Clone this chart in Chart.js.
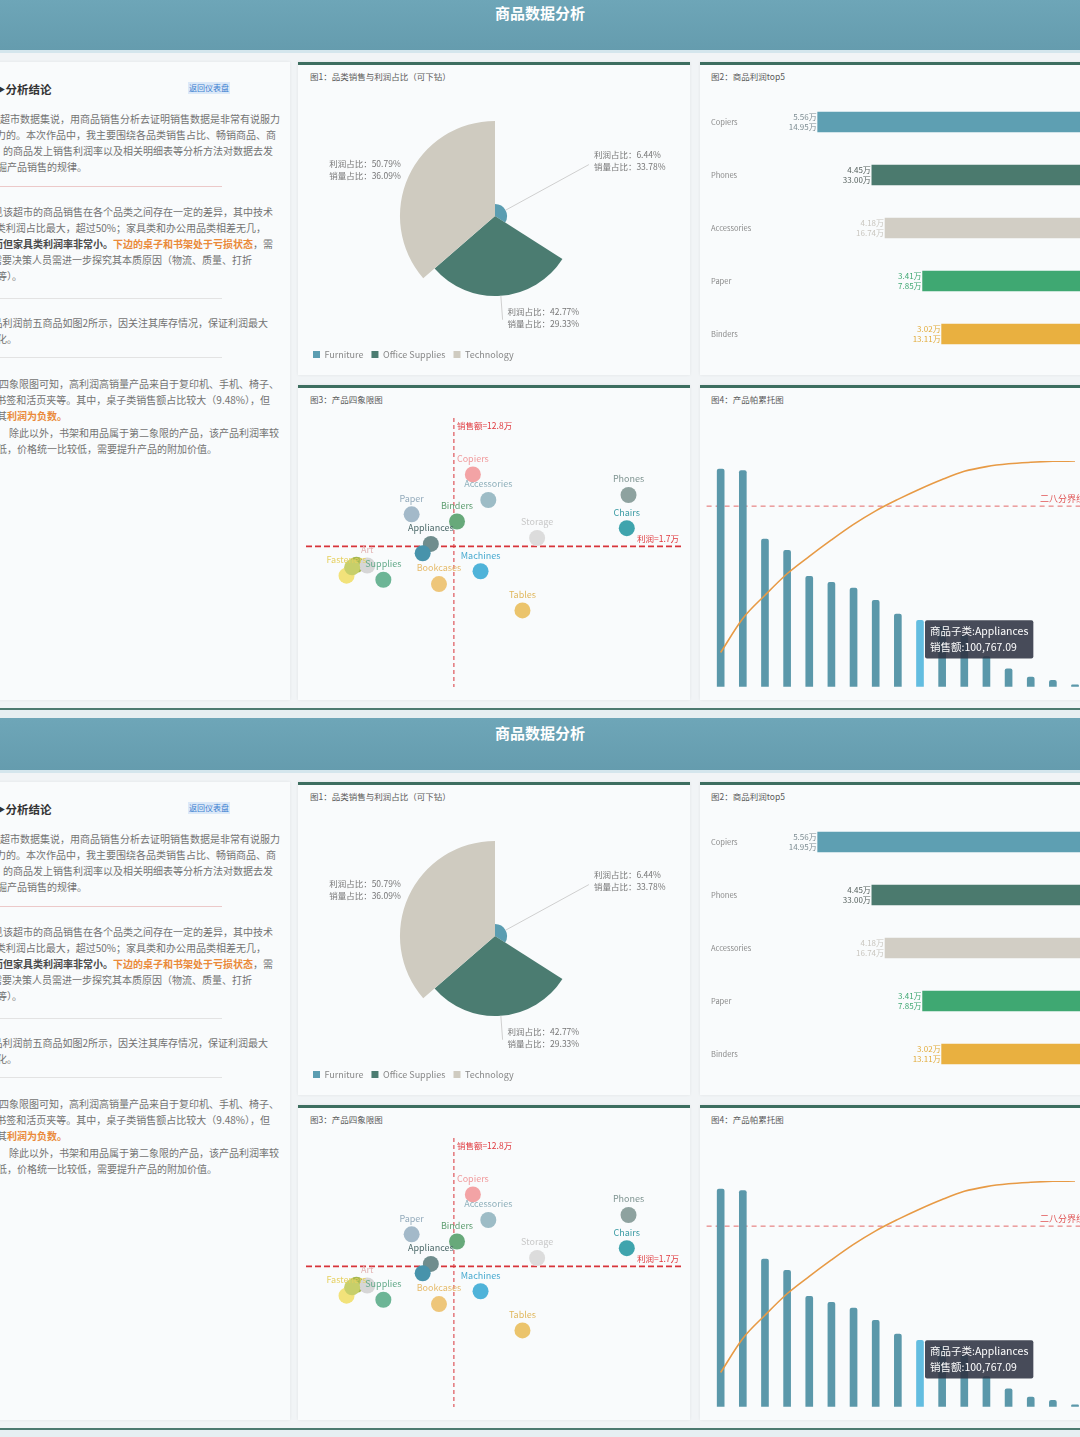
<!DOCTYPE html>
<html><head><meta charset="utf-8">
<script src="https://cdn.jsdelivr.net/npm/chart.js@4.4.0/dist/chart.umd.min.js"></script>
<style>
html,body{margin:0;padding:0;width:1080px;height:1437px;overflow:hidden;background:#ffffff;font-family:'Noto Sans CJK SC','Noto Sans',sans-serif;}
.copy{position:absolute;left:0;width:1080px;height:720px;background:#f1f4f6;overflow:hidden;}
.hdr{position:absolute;left:0;top:0;width:1080px;height:52px;background:linear-gradient(180deg,#6ea6b8,#659cae);}
.hdr .t{position:absolute;left:0;width:1080px;top:4px;text-align:center;color:#fff;font-weight:700;font-size:15px;line-height:22px;}
.strip{position:absolute;left:0;top:52px;width:1080px;height:3px;background:#d4e6ed;}
.panel{position:absolute;background:#f9fbfc;box-shadow:0 0 3px rgba(0,0,0,0.07);box-sizing:border-box;}
.panel.b{border-top:3px solid #3d6e60;}
.ptitle{position:absolute;font-size:8.5px;line-height:12px;color:#5a5a5a;white-space:nowrap;}
.ln{position:absolute;font-size:10px;line-height:14px;color:#737373;white-space:nowrap;}
.ln b{color:#4a4a4a;}
.ln b.o{color:#ea8a3a;}
.sep{position:absolute;height:1px;}
.botline{position:absolute;left:0;top:710px;width:1080px;height:2px;background:#4d7a70;}
.botstrip{position:absolute;left:0;top:712px;width:1080px;height:8px;background:#e6eff2;}
canvas{position:absolute;}
</style>
</head><body>
<script>
Chart.defaults.font.family = "'Noto Sans CJK SC','Noto Sans',sans-serif";
Chart.defaults.animation = false;

// ---------- data ----------
const pieCategories = ['Furniture', 'Office Supplies', 'Technology'];
const pieProfitShare = [6.44, 42.77, 50.79];   // 利润占比 %
const pieSalesShare = [33.78, 29.33, 36.09];   // 销量占比 %

const topProducts = ['Copiers', 'Phones', 'Accessories', 'Paper', 'Binders'];
const topProfit = [5.56, 4.45, 4.18, 3.41, 3.02];   // 万
const topSales = [14.95, 33.00, 16.74, 7.85, 13.11]; // 万

const subCategories = ['Copiers','Accessories','Phones','Chairs','Paper','Binders','Storage','Appliances','Machines','Tables','Bookcases','Supplies','Fasteners','Envelopes','Art','Furnishings','Labels'];
const subSales = [14.95,16.74,33.00,32.80,7.85,13.11,22.40,10.076709,15.84,20.70,11.02,4.57,0.30,1.45,2.70,9.13,0.95]; // 万
const subProfit = [5.56,4.18,4.45,2.66,3.41,3.02,2.13,1.81,0.34,-1.77,-0.35,-0.12,0.10,0.69,0.65,1.31,0.55]; // 万

const salesThreshold = 12.75;
const profitThreshold = 1.68;
const paretoCutoff = 80;
const highlightProduct = 'Appliances';

// ---------- styles ----------
const pieColors = ['#5b9db1', '#4b7c71', '#cfcbc0'];
const topColors = ['#5e9fb2', '#4b7a6e', '#d2cec5', '#3fa872', '#e9b040'];
const topLabelColors = ['#7d8c92', '#55605d', '#c9c6bf', '#3fa872', '#e2ab3a'];
const subColors = ['#f3a3a5','#9dbcc6','#8ea29f','#3fa4ad','#a3b9c9','#67a97a','#dcdcdc','#6f8d8d','#4fb3d9','#ebc46c','#eec67a','#6db596','#f2e27a','#a4b74e','#d6d6d6','#4793ab','#c7cf6a'];
const subLabelColors = ['#f09a9c','#8fb0bb','#7f9491','#3a9aa3','#93aabb','#5e9e70','#c8c8c8','#4d6a6a','#48aad0','#e0b85e','#e6bb6a','#64aa8a','#e6d060','#a4b74e','#e2b4b4','#4793ab','#c7cf6a'];
const subLabelShown = [1,1,1,1,1,1,1,1,1,1,1,1,1,0,1,0,0];

const notes = [
 {y:119, e:280, h:'某某超市数据集说，用商品销售分析去证明销售数据是非常有说服力'},
 {y:135, e:276, h:'力的。本次作品中，我主要围绕各品类销售占比、畅销商品、商'},
 {y:151, e:273, h:'的商品发上销售利润率以及相关明细表等分析方法对数据去发'},
 {y:167, s:-3, h:'掘产品销售的规律。'},
 {y:212, e:273, h:'可见该超市的商品销售在各个品类之间存在一定的差异，其中技术'},
 {y:228, e:266, h:'术类利润占比最大，超过50%；家具类和办公用品类相差无几，'},
 {y:244, e:273, h:'<b>而但家具类利润率非常小。</b><b class="o">下边的桌子和书架处于亏损状态</b>，需'},
 {y:260, e:252, h:'需要决策人员需进一步探究其本质原因（物流、质量、打折'},
 {y:276, s:-3, h:'等）。'},
 {y:323, e:268, h:'商品利润前五商品如图2所示，因关注其库存情况，保证利润最大'},
 {y:339, s:-3, h:'化。'},
 {y:384, e:279, h:'由四象限图可知，高利润高销量产品来自于复印机、手机、椅子、'},
 {y:400, e:270, h:'书签和活页夹等。其中，桌子类销售额占比较大（9.48%），但'},
 {y:416, s:-3, h:'其<b class="o">利润为负数。</b>'},
 {y:433, e:279, h:'除此以外，书架和用品属于第二象限的产品，该产品利润率较'},
 {y:449, s:-3, h:'低，价格统一比较低，需要提升产品的附加价值。'}
];

// ---------- plugins ----------
const pieLabelPlugin = {
  id: 'pieLabels',
  afterDatasetsDraw(chart) {
    const ctx = chart.ctx;
    const meta = chart.getDatasetMeta(0);
    const lead = [95, 24, 2];
    const dyl = [-4, -2, -6];
    ctx.save();
    ctx.font = "8.5px 'Noto Sans CJK SC'";
    ctx.textBaseline = 'middle';
    meta.data.forEach((arc, i) => {
      const p = arc.getProps(['x','y','startAngle','endAngle','outerRadius'], true);
      const mid = (p.startAngle + p.endAngle) / 2;
      const dx = Math.cos(mid), dy = Math.sin(mid);
      const x0 = p.x + dx * p.outerRadius, y0 = p.y + dy * p.outerRadius;
      const x1 = p.x + dx * (p.outerRadius + lead[i]), y1 = p.y + dy * (p.outerRadius + lead[i]);
      if (lead[i] > 10) {
        ctx.strokeStyle = '#cfcfcf'; ctx.lineWidth = 1;
        ctx.beginPath(); ctx.moveTo(x0, y0); ctx.lineTo(x1, y1); ctx.stroke();
      }
      const right = dx >= 0;
      ctx.textAlign = right ? 'left' : 'right';
      const tx = right ? x1 + 5 : x1 - 6;
      const ty = y1 + dyl[i];
      ctx.fillStyle = '#777';
      ctx.fillText('利润占比：' + pieProfitShare[i].toFixed(2) + '%', tx, ty - 6);
      ctx.fillText('销量占比：' + pieSalesShare[i].toFixed(2) + '%', tx, ty + 6);
    });
    ctx.restore();
  }
};

const topLabelPlugin = {
  id: 'topLabels',
  afterDatasetsDraw(chart) {
    const ctx = chart.ctx;
    const meta = chart.getDatasetMeta(0);
    ctx.save();
    ctx.font = "8px 'Noto Sans CJK SC'";
    ctx.textAlign = 'right'; ctx.textBaseline = 'middle';
    meta.data.forEach((bar, i) => {
      ctx.fillStyle = topLabelColors[i];
      ctx.fillText(topProfit[i].toFixed(2) + '万', bar.x - 1, bar.y - 5);
      ctx.fillText(topSales[i].toFixed(2) + '万', bar.x - 1, bar.y + 5);
    });
    ctx.restore();
  }
};

const quadPlugin = {
  id: 'quad',
  beforeDatasetsDraw(chart) {
    const {ctx, chartArea: a, scales: {x, y}} = chart;
    const vx = x.getPixelForValue(salesThreshold);
    const hy = y.getPixelForValue(profitThreshold);
    ctx.save();
    ctx.strokeStyle = '#d8343a';
    ctx.lineWidth = 1; ctx.setLineDash([4, 3]);
    ctx.beginPath(); ctx.moveTo(vx, a.top); ctx.lineTo(vx, a.bottom); ctx.stroke();
    ctx.lineWidth = 1.6; ctx.setLineDash([6, 3]);
    ctx.beginPath(); ctx.moveTo(a.left, hy); ctx.lineTo(a.right, hy); ctx.stroke();
    ctx.setLineDash([]);
    ctx.fillStyle = '#e0393e';
    ctx.font = "8.5px 'Noto Sans CJK SC'";
    ctx.textBaseline = 'middle';
    ctx.textAlign = 'left';
    ctx.fillText('销售额=12.8万', vx + 3, a.top + 8);
    ctx.textAlign = 'right';
    ctx.fillText('利润=1.7万', a.right - 3, hy - 8);
    ctx.restore();
  },
  afterDatasetsDraw(chart) {
    const ctx = chart.ctx;
    const meta = chart.getDatasetMeta(0);
    ctx.save();
    ctx.font = "9px 'Noto Sans CJK SC'";
    ctx.textAlign = 'center'; ctx.textBaseline = 'middle';
    meta.data.forEach((pt, i) => {
      if (!subLabelShown[i]) return;
      ctx.fillStyle = subLabelColors[i];
      ctx.fillText(subCategories[i], pt.x, pt.y - 16);
    });
    ctx.restore();
  }
};

const paretoPlugin = {
  id: 'pareto80',
  beforeDatasetsDraw(chart) {
    const {ctx, chartArea: a, scales} = chart;
    const yy = scales.y1.getPixelForValue(paretoCutoff);
    ctx.save();
    ctx.strokeStyle = '#e36a6a'; ctx.lineWidth = 1; ctx.setLineDash([5, 4]);
    ctx.beginPath(); ctx.moveTo(a.left - 3, yy); ctx.lineTo(chart.width, yy); ctx.stroke();
    ctx.setLineDash([]);
    ctx.fillStyle = '#e05555';
    ctx.font = "9px 'Noto Sans CJK SC'";
    ctx.textAlign = 'left'; ctx.textBaseline = 'middle';
    ctx.fillText('二八分界线', a.right - 46, yy - 8);
    ctx.restore();
  }
};

Chart.Tooltip.positioners.barRight = function (items) {
  if (!items.length) return false;
  const el = items[0].element;
  return { x: el.x + 5, y: el.y + 19 };
};

// ---------- builders ----------
function el(parent, cls, css, html) {
  const d = document.createElement('div');
  if (cls) d.className = cls;
  Object.assign(d.style, css || {});
  if (html !== undefined) d.innerHTML = html;
  parent.appendChild(d);
  return d;
}
function cv(parent, left, top, w, h) {
  const c = document.createElement('canvas');
  c.width = w; c.height = h;
  c.style.left = left + 'px'; c.style.top = top + 'px';
  c.style.width = w + 'px'; c.style.height = h + 'px';
  parent.appendChild(c);
  return c;
}

function buildCopy(topAbs) {
  const copy = el(document.body, 'copy', {top: topAbs + 'px'});
  const hdr = el(copy, 'hdr');
  el(hdr, 't', {}, '商品数据分析');
  el(copy, 'strip');

  // left notes panel
  const lp = el(copy, 'panel', {left: '-10px', top: '64px', width: '300px', height: '638px', overflow: 'hidden'});
  el(lp, 'ln', {left: '4px', top: (89 - 62 - 8) + 'px', fontSize: '11.5px', lineHeight: '16px', color: '#333', fontWeight: '700'}, '▶分析结论');
  el(lp, 'ln', {left: '198px', top: (88 - 62 - 6) + 'px', fontSize: '8px', lineHeight: '12px', color: '#3c7fd0', background: '#dce9f8', padding: '0 1px'}, '返回仪表盘');
  notes.forEach(n => {
    const css = {top: (n.y - 62 - 7) + 'px'};
    if (n.e !== undefined) { css.right = (300 - (n.e + 10)) + 'px'; }
    else { css.left = (n.s + 10) + 'px'; }
    el(lp, 'ln', css, n.h);
  });
  el(lp, 'sep', {left: '0px', top: (186 - 62) + 'px', width: '232px', background: '#ecc9c9'});
  el(lp, 'sep', {left: '0px', top: (298 - 62) + 'px', width: '232px', background: '#e3e3e3'});
  el(lp, 'sep', {left: '0px', top: (357 - 62) + 'px', width: '232px', background: '#e3e3e3'});

  // chart panels
  el(copy, 'panel b', {left: '298px', top: '64px', width: '392px', height: '313px'});
  el(copy, 'panel b', {left: '700px', top: '64px', width: '420px', height: '313px'});
  el(copy, 'panel b', {left: '298px', top: '387px', width: '392px', height: '315px'});
  el(copy, 'panel b', {left: '700px', top: '387px', width: '420px', height: '315px'});
  el(copy, 'ptitle', {left: '310px', top: '72px'}, '图1：品类销售与利润占比（可下钻）');
  el(copy, 'ptitle', {left: '711px', top: '72px'}, '图2：商品利润top5');
  el(copy, 'ptitle', {left: '310px', top: '395px'}, '图3：产品四象限图');
  el(copy, 'ptitle', {left: '711px', top: '395px'}, '图4：产品帕累托图');
  el(copy, 'botline');
  el(copy, 'botstrip');

  // Pie (rose) chart
  const salesTotal = pieSalesShare.reduce((a, b) => a + b, 0);
  new Chart(cv(copy, 305, 93, 380, 278), {
    type: 'polarArea',
    data: {
      labels: pieCategories,
      datasets: [{
        data: pieProfitShare,
        backgroundColor: pieColors,
        borderWidth: 0,
        angle: (c) => pieSalesShare[c.dataIndex] / salesTotal * 360
      }]
    },
    options: {
      responsive: false, events: [],
      scales: { r: { display: false, min: 0, max: 66.8 } },
      plugins: {
        legend: { position: 'bottom', align: 'start',
          labels: { boxWidth: 7, boxHeight: 7, padding: 8, color: '#888', font: { size: 9 } } },
        tooltip: { enabled: false }
      }
    },
    plugins: [pieLabelPlugin]
  });

  // Top5 profit bars
  new Chart(cv(copy, 700, 93, 400, 274), {
    type: 'bar',
    data: { labels: topProducts, datasets: [{ data: topProfit, backgroundColor: topColors, barThickness: 20, borderWidth: 0 }] },
    options: {
      indexAxis: 'y', responsive: false, events: [],
      layout: { padding: { left: 11, right: 11 } },
      scales: {
        x: { display: false, reverse: true, min: 0, max: 6.824 },
        y: { grid: { display: false }, border: { display: false },
             ticks: { crossAlign: 'far', color: '#8a8a8a', font: { size: 7.5 }, padding: 0 },
             afterFit: (s) => { s.width = 45; } }
      },
      plugins: { legend: { display: false }, tooltip: { enabled: false } }
    },
    plugins: [topLabelPlugin]
  });

  // Quadrant scatter
  new Chart(cv(copy, 298, 412, 392, 285), {
    type: 'scatter',
    data: { datasets: [{
      data: subCategories.map((n, i) => ({ x: subSales[i], y: subProfit[i] })),
      pointRadius: 8, pointBackgroundColor: subColors, pointBorderWidth: 0
    }] },
    options: {
      responsive: false, events: [],
      layout: { padding: { left: 8, right: 7, top: 5, bottom: 5 } },
      scales: { x: { display: false, min: -4.4, max: 39.2 }, y: { display: false, min: -5.9, max: 8.6 } },
      plugins: { legend: { display: false }, tooltip: { enabled: false } }
    },
    plugins: [quadPlugin]
  });

  // Pareto
  const order = subCategories.map((_, i) => i).sort((a, b) => subSales[b] - subSales[a]);
  const paretoLabels = order.map(i => subCategories[i]);
  const paretoSales = order.map(i => subSales[i]);
  const total = paretoSales.reduce((a, b) => a + b, 0);
  let run = 0;
  const paretoCum = paretoSales.map(v => (run += v) / total * 100);
  const pc = new Chart(cv(copy, 700, 457, 400, 237), {
    type: 'bar',
    data: {
      labels: paretoLabels,
      datasets: [
        { type: 'bar', data: paretoSales, yAxisID: 'y', order: 1,
          backgroundColor: paretoLabels.map(n => n === highlightProduct ? '#63bde0' : '#5b98aa'),
          barThickness: 7, borderRadius: 2, borderWidth: 0 },
        { type: 'line', data: paretoCum, yAxisID: 'y1', order: 0,
          borderColor: '#e79a45', borderWidth: 1.6, pointRadius: 0, tension: 0.4, cubicInterpolationMode: 'monotone', fill: false }
      ]
    },
    options: {
      responsive: false, events: [],
      layout: { padding: { left: 9.6, right: 13.9, top: 6, bottom: 5.3 } },
      scales: {
        x: { display: false },
        y: { display: false, min: 0, max: 34.24 },
        y1: { display: false, min: 0, max: 100, position: 'right' }
      },
      plugins: {
        legend: { display: false },
        tooltip: {
          enabled: true, position: 'barRight', displayColors: false,
          backgroundColor: 'rgba(45,50,66,0.88)',
          titleFont: { size: 10.5, weight: 'normal' }, bodyFont: { size: 10.5 },
          titleColor: '#fff', bodyColor: '#fff', titleMarginBottom: 3,
          padding: { x: 5, y: 5 }, cornerRadius: 2, caretSize: 0, caretPadding: 0,
          xAlign: 'left', yAlign: 'center',
          callbacks: {
            title: (items) => '商品子类:' + items[0].label,
            label: (item) => '销售额:' + (item.raw * 10000).toLocaleString('en-US', { minimumFractionDigits: 2, maximumFractionDigits: 2 })
          }
        }
      }
    },
    plugins: [paretoPlugin]
  });
  const hi = paretoLabels.indexOf(highlightProduct);
  pc.tooltip.setActiveElements([{ datasetIndex: 0, index: hi }], { x: 0, y: 0 });
  pc.update('none');
}

buildCopy(-2);
buildCopy(718);
</script>
</body></html>
